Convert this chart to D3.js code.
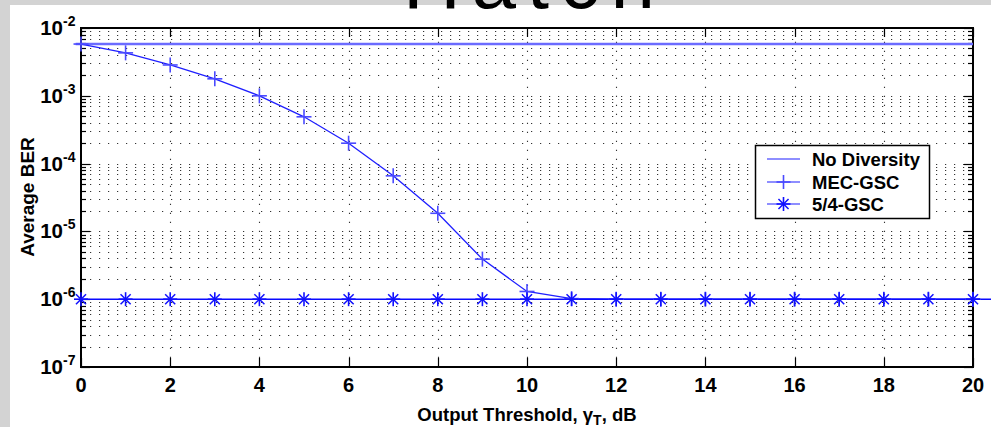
<!DOCTYPE html>
<html><head><meta charset="utf-8">
<script src="https://cdn.jsdelivr.net/npm/d3@7"></script>
<style>body{margin:0;background:#fff}svg{display:block}</style>
</head><body><svg id="c" width="991" height="427"></svg>
<script>
// ---- data ----
const xTicks = [0,2,4,6,8,10,12,14,16,18,20];
const yDecades = [-7,-6,-5,-4,-3,-2];
const seriesNames = ["No Diversity","MEC-GSC","5/4-GSC"];
const noDivX = [-0.12, 20];
const noDivY = [5.8e-3, 5.8e-3];
const mecX = [0,1,2,3,4,5,6,7,8,9,10,11,12,13,14,15,16,17,18,19,20];
const mecY = [5.8e-3,4.3e-3,2.85e-3,1.78e-3,1.0e-3,4.9e-4,2.0e-4,6.6e-5,1.85e-5,3.9e-6,1.3e-6,1.02e-6,1e-6,1e-6,1e-6,1e-6,1e-6,1e-6,1e-6,1e-6,1e-6];
const gscX = [0,1,2,3,4,5,6,7,8,9,10,11,12,13,14,15,16,17,18,19,20];
const gscY = gscX.map(()=>1e-6);
const gscTailX = [20, 20.45];
const gscTailY = [1e-6, 1e-6];
const titleText = "Hatch";

// ---- layout ----
const svg = d3.select("#c");
const L=81,R=973,T=28,B=367;
const x = d3.scaleLinear().domain([0,20]).range([L,R]);
const y = d3.scaleLog().domain([1e-7,1e-2]).range([B,T]);
const font = "'Liberation Sans', Arial, sans-serif";

// background texture strips
svg.append("rect").attr("x",0).attr("y",0).attr("width",991).attr("height",427).attr("fill","#d3d3d3");
svg.append("rect").attr("x",10).attr("y",5).attr("width",981).attr("height",422).attr("fill","#fff");
svg.append("rect").attr("x",L).attr("y",T).attr("width",R-L).attr("height",B-T).attr("fill","#fff");

// minor values
const minors=[];
yDecades.slice(0,-1).forEach(d=>{for(let m=2;m<=9;m++) minors.push(m*Math.pow(10,d));});
const majors = yDecades.map(d=>Math.pow(10,d));

const grid = svg.append("g").attr("stroke","#333").attr("stroke-width",1.1).attr("stroke-dasharray","1.2 7.8");
grid.selectAll("line.h").data(minors.concat(majors.slice(1,-1))).join("line")
  .attr("x1",L).attr("x2",R).attr("y1",d=>Math.round(y(d))+0.5).attr("y2",d=>Math.round(y(d))+0.5);
grid.selectAll("line.v").data(xTicks.slice(1,-1)).join("line")
  .attr("y1",B).attr("y2",T).attr("x1",d=>Math.round(x(d))+0.5).attr("x2",d=>Math.round(x(d))+0.5);

// ticks (inside) on all four sides
const tk = svg.append("g").attr("stroke","#000").attr("stroke-width",1.2);
xTicks.forEach(v=>{
  const px=Math.round(x(v))+0.5;
  tk.append("line").attr("x1",px).attr("x2",px).attr("y1",B).attr("y2",B-9);
  tk.append("line").attr("x1",px).attr("x2",px).attr("y1",T).attr("y2",T+9);
});
majors.forEach(v=>{
  const py=Math.round(y(v))+0.5;
  tk.append("line").attr("x1",L).attr("x2",L+9).attr("y1",py).attr("y2",py);
  tk.append("line").attr("x1",R).attr("x2",R-9).attr("y1",py).attr("y2",py);
});
minors.forEach(v=>{
  const py=Math.round(y(v))+0.5;
  tk.append("line").attr("x1",L).attr("x2",L+5).attr("y1",py).attr("y2",py);
  tk.append("line").attr("x1",R).attr("x2",R-5).attr("y1",py).attr("y2",py);
});

// frame
svg.append("rect").attr("x",L).attr("y",T).attr("width",R-L).attr("height",B-T)
  .attr("fill","none").attr("stroke","#000").attr("stroke-width",2);

// x tick labels
svg.append("g").selectAll("text").data(xTicks).join("text")
  .attr("x",d=>x(d)).attr("y",392).attr("text-anchor","middle")
  .attr("font-family",font).attr("font-weight","bold").attr("font-size",20).text(d=>d);

// y tick labels
const yl = svg.append("g");
yDecades.forEach(d=>{
  const py=y(Math.pow(10,d));
  yl.append("text").attr("x",63).attr("y",py+7).attr("text-anchor","end")
    .attr("font-family",font).attr("font-weight","bold").attr("font-size",20.5).text("10");
  yl.append("text").attr("x",63).attr("y",py-2).attr("text-anchor","start")
    .attr("font-family",font).attr("font-weight","bold").attr("font-size",14).text(d);
});

// axis labels
svg.append("text").attr("transform","translate(34,197) rotate(-90)").attr("text-anchor","middle")
  .attr("font-family",font).attr("font-weight","bold").attr("font-size",19).text("Average BER");
const xl = svg.append("text").attr("x",527).attr("y",421).attr("text-anchor","middle")
  .attr("font-family",font).attr("font-weight","bold").attr("font-size",18.5);
xl.append("tspan").text("Output Threshold, γ");
xl.append("tspan").attr("dy",4).attr("font-size",14).text("T");
xl.append("tspan").attr("dy",-4).text(", dB");

// series
const line = d3.line().x(d=>x(d[0])).y(d=>y(d[1]));
svg.append("path").datum(d3.zip(noDivX,noDivY)).attr("d",line)
  .attr("fill","none").attr("stroke","#6b6bff").attr("stroke-width",2.6);
svg.append("path").datum(d3.zip(mecX,mecY)).attr("d",line)
  .attr("fill","none").attr("stroke","#1f1fff").attr("stroke-width",1.3);
svg.append("path").datum(d3.zip(gscX,gscY).concat(d3.zip(gscTailX,gscTailY))).attr("d",line)
  .attr("fill","none").attr("stroke","#0a0aff").attr("stroke-width",1.6);

function plus(g,cx,cy,s,col){
  g.append("line").attr("x1",cx-s).attr("x2",cx+s).attr("y1",cy).attr("y2",cy).attr("stroke",col).attr("stroke-width",1.6);
  g.append("line").attr("x1",cx).attr("x2",cx).attr("y1",cy-s).attr("y2",cy+s).attr("stroke",col).attr("stroke-width",1.6);
}
function star(g,cx,cy,s,col){
  plus(g,cx,cy,s,col);
  const a=s*0.72;
  g.append("line").attr("x1",cx-a).attr("x2",cx+a).attr("y1",cy-a).attr("y2",cy+a).attr("stroke",col).attr("stroke-width",1.5);
  g.append("line").attr("x1",cx-a).attr("x2",cx+a).attr("y1",cy+a).attr("y2",cy-a).attr("stroke",col).attr("stroke-width",1.5);
}
const mk = svg.append("g");
mecX.forEach((v,i)=>plus(mk,x(v),y(mecY[i]),7.5,"#4a4aff"));
gscX.forEach((v,i)=>star(mk,x(v),y(gscY[i]),7,"#1010ff"));

// legend
const lg = svg.append("g");
lg.append("rect").attr("x",755.5).attr("y",145.5).attr("width",174).attr("height",73)
  .attr("fill","#fff").attr("stroke","#000").attr("stroke-width",1.5);
const ly=[159,182,204];
seriesNames.forEach((n,i)=>{
  lg.append("line").attr("x1",767).attr("x2",800).attr("y1",ly[i]).attr("y2",ly[i]).attr("stroke","#1f1fff").attr("stroke-width",1.2);
  lg.append("text").attr("x",812).attr("y",ly[i]+7).attr("font-family",font).attr("font-weight","bold").attr("font-size",18.5).text(n);
});
plus(lg,783.5,ly[1],7,"#4a4aff");
star(lg,783.5,ly[2],7,"#1010ff");

// cut-off title (partly above the page edge, as in the reference)
svg.append("text").attr("x",403).attr("y",8).attr("textLength",252).attr("lengthAdjust","spacing")
  .attr("font-family",font).attr("font-size",80).attr("fill","#000").text(titleText);
</script></body></html>
